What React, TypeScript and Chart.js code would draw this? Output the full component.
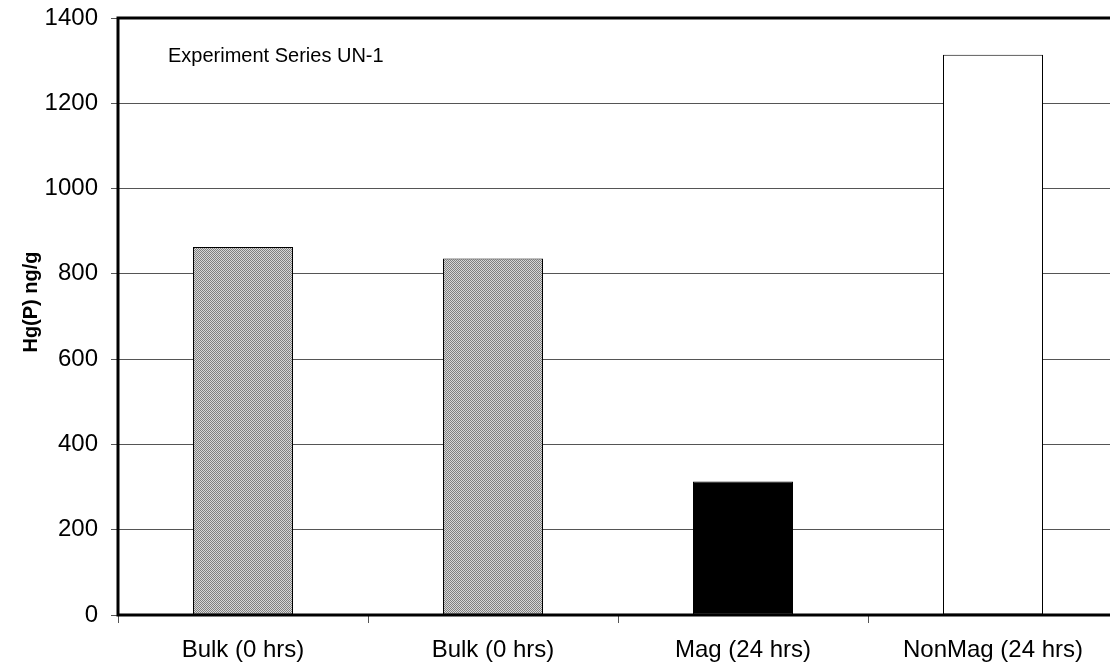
import React, { useEffect, useRef } from "react";
import { Chart, registerables } from "chart.js";

Chart.register(...registerables);

const categories = ["Bulk (0 hrs)", "Bulk (0 hrs)", "Mag (24 hrs)", "NonMag (24 hrs)"];
const hgValues = [863, 836, 313, 1314];
const yTicks = [0, 200, 400, 600, 800, 1000, 1200, 1400];
const yTitle = "Hg(P) ng/g";
const annotation = "Experiment Series UN-1";

const FONT = "'Liberation Sans', Arial, sans-serif";

function makeHatch(): CanvasPattern | string {
  const c = document.createElement("canvas");
  c.width = 2;
  c.height = 2;
  const g = c.getContext("2d");
  if (!g) return "#a0a0a0";
  g.fillStyle = "#d8d8d8";
  g.fillRect(0, 0, 2, 2);
  g.fillStyle = "#808080";
  g.fillRect(0, 0, 1, 1);
  g.fillRect(1, 1, 1, 1);
  const p = g.createPattern(c, "repeat");
  return p || "#a0a0a0";
}

export default function App() {
  const ref = useRef<HTMLCanvasElement | null>(null);

  useEffect(() => {
    const canvas = ref.current;
    if (!canvas) return;
    const hatch = makeHatch();
    const colors = [hatch, hatch, "#000000", "#ffffff"];

    const framePlugin = {
      id: "frame",
      afterDatasetsDraw(chart: any) {
        const { ctx, chartArea } = chart;
        const { left, top, right, bottom } = chartArea;
        ctx.save();
        ctx.strokeStyle = "#000";
        ctx.lineWidth = 3;
        ctx.beginPath();
        ctx.moveTo(left, bottom);
        ctx.lineTo(left, top);
        ctx.lineTo(right + 5, top);
        ctx.moveTo(left - 1.5, bottom);
        ctx.lineTo(right + 5, bottom);
        ctx.stroke();
        ctx.restore();
      },
      afterDraw(chart: any) {
        const { ctx, chartArea } = chart;
        ctx.save();
        ctx.fillStyle = "#000";
        ctx.font = `20px ${FONT}`;
        ctx.textAlign = "left";
        ctx.textBaseline = "alphabetic";
        ctx.fillText(annotation, chartArea.left + 50, 62);
        ctx.translate(31, 302);
        ctx.rotate(-Math.PI / 2);
        ctx.font = `bold 20px ${FONT}`;
        ctx.textAlign = "center";
        ctx.textBaseline = "middle";
        ctx.fillText(yTitle, 0, 0);
        ctx.restore();
      },
    };

    const chart = new Chart(canvas, {
      type: "bar",
      data: {
        labels: categories,
        datasets: [
          {
            data: hgValues,
            backgroundColor: colors as any,
            borderColor: "#000",
            borderWidth: 1,
            borderSkipped: false,
            barPercentage: 0.4,
            categoryPercentage: 1,
          },
        ],
      },
      options: {
        responsive: false,
        animation: false,
        devicePixelRatio: 1,
        layout: { padding: { top: 18, right: 7, left: 0, bottom: 0 } },
        plugins: {
          legend: { display: false },
          tooltip: { enabled: false },
          title: { display: false },
        },
        scales: {
          x: {
            offset: true,
            grid: {
              display: true,
              offset: true,
              drawOnChartArea: false,
              drawTicks: true,
              tickLength: 8,
              color: "#555",
              lineWidth: 1,
            },
            border: { display: false },
            ticks: {
              color: "#000",
              font: { family: FONT, size: 24 },
              padding: 13,
              maxRotation: 0,
              autoSkip: false,
            },
            afterFit: (s: any) => {
              s.height = 50;
              s.paddingLeft = 0;
              s.paddingRight = 0;
            },
          },
          y: {
            min: 0,
            max: 1400,
            afterBuildTicks: (s: any) => {
              s.ticks = yTicks.map((v) => ({ value: v }));
            },
            grid: {
              display: true,
              drawTicks: true,
              tickLength: 7,
              color: "#555",
              lineWidth: 1,
            },
            border: { display: false },
            ticks: {
              color: "#000",
              font: { family: FONT, size: 24 },
              padding: 13,
              callback: (v: any) => String(v),
            },
            afterFit: (s: any) => {
              s.width = 118;
              s.paddingTop = 0;
              s.paddingBottom = 0;
            },
          },
        },
      },
      plugins: [framePlugin],
    });
    return () => chart.destroy();
  }, []);

  return (
    <div
      style={{
        position: "fixed",
        left: 0,
        top: 0,
        width: 1110,
        height: 665,
        overflow: "hidden",
        background: "#fff",
      }}
    >
      <canvas ref={ref} width={1125} height={665} style={{ display: "block" }} />
    </div>
  );
}
